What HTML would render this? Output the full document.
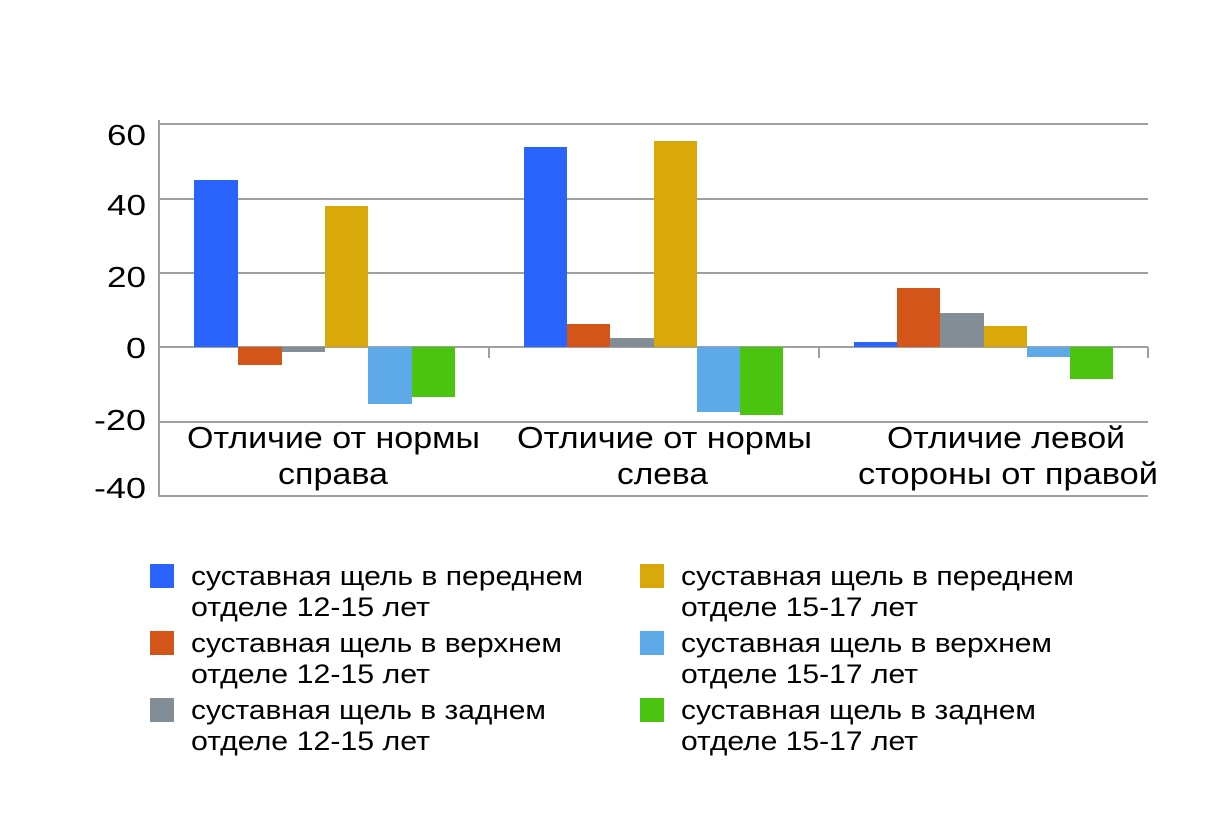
<!DOCTYPE html>
<html><head><meta charset="utf-8"><style>
html,body{margin:0;padding:0;background:#fff;}
svg{display:block;font-family:"Liberation Sans","DejaVu Sans",sans-serif;}
</style></head><body>
<svg width="1213" height="818" viewBox="0 0 1213 818">
<g stroke="#a0a0a0" stroke-width="2">
<line x1="159" y1="124" x2="1148" y2="124"/>
<line x1="159" y1="199" x2="1148" y2="199"/>
<line x1="159" y1="273" x2="1148" y2="273"/>
<line x1="159" y1="422" x2="1148" y2="422"/>
<line x1="159" y1="496" x2="1148" y2="496"/>
<line x1="159" y1="347" x2="1148" y2="347"/>
<line x1="159" y1="120" x2="159" y2="497"/>
<line x1="489" y1="347" x2="489" y2="358"/>
<line x1="819" y1="347" x2="819" y2="358"/>
<line x1="1148" y1="347" x2="1148" y2="358"/>
</g>
<g>
<rect x="194" y="180" width="44" height="167" fill="#2a64fc"/>
<rect x="238" y="347" width="44" height="18" fill="#d45519"/>
<rect x="282" y="347" width="43" height="5" fill="#838d96"/>
<rect x="325" y="206" width="43" height="141" fill="#d9a90b"/>
<rect x="368" y="347" width="44" height="57" fill="#5ea9e7"/>
<rect x="412" y="347" width="43" height="50" fill="#4bc410"/>

<rect x="524" y="147" width="43" height="200" fill="#2a64fc"/>
<rect x="567" y="324" width="43" height="23" fill="#d45519"/>
<rect x="610" y="338" width="44" height="9" fill="#838d96"/>
<rect x="654" y="141" width="43" height="206" fill="#d9a90b"/>
<rect x="697" y="347" width="43" height="65" fill="#5ea9e7"/>
<rect x="740" y="347" width="43" height="68" fill="#4bc410"/>

<rect x="854" y="342" width="43" height="5" fill="#2a64fc"/>
<rect x="897" y="288" width="43" height="59" fill="#d45519"/>
<rect x="940" y="313" width="44" height="34" fill="#838d96"/>
<rect x="984" y="326" width="43" height="21" fill="#d9a90b"/>
<rect x="1027" y="347" width="43" height="10" fill="#5ea9e7"/>
<rect x="1070" y="347" width="43" height="32" fill="#4bc410"/>
</g>
<g font-size="29" fill="#000" lengthAdjust="spacingAndGlyphs">
<text x="107" y="145" textLength="39" lengthAdjust="spacingAndGlyphs">60</text>
<text x="107" y="215" textLength="39" lengthAdjust="spacingAndGlyphs">40</text>
<text x="107" y="287" textLength="39" lengthAdjust="spacingAndGlyphs">20</text>
<text x="126" y="358" textLength="20" lengthAdjust="spacingAndGlyphs">0</text>
<text x="94" y="430" textLength="52" lengthAdjust="spacingAndGlyphs">-20</text>
<text x="94" y="498" textLength="52" lengthAdjust="spacingAndGlyphs">-40</text>
</g>
<g font-size="31" fill="#000">
<text x="187" y="448" textLength="293" lengthAdjust="spacingAndGlyphs">Отличие от нормы</text>
<text x="278" y="484" textLength="110" lengthAdjust="spacingAndGlyphs">справа</text>
<text x="517" y="448" textLength="295" lengthAdjust="spacingAndGlyphs">Отличие от нормы</text>
<text x="617" y="484" textLength="91" lengthAdjust="spacingAndGlyphs">слева</text>
<text x="887" y="448" textLength="238" lengthAdjust="spacingAndGlyphs">Отличие левой</text>
<text x="858" y="484" textLength="300" lengthAdjust="spacingAndGlyphs">стороны от правой</text>
</g>
<g font-size="27" fill="#000">
<rect x="150" y="564" width="24" height="24" fill="#2a64fc"/>
<text x="191" y="585" textLength="392" lengthAdjust="spacingAndGlyphs">суставная щель в переднем</text>
<text x="191" y="616" textLength="239" lengthAdjust="spacingAndGlyphs">отделе 12-15 лет</text>
<rect x="150" y="631" width="24" height="24" fill="#d45519"/>
<text x="191" y="652" textLength="371" lengthAdjust="spacingAndGlyphs">суставная щель в верхнем</text>
<text x="191" y="683" textLength="239" lengthAdjust="spacingAndGlyphs">отделе 12-15 лет</text>
<rect x="150" y="698" width="24" height="24" fill="#838d96"/>
<text x="191" y="719" textLength="355" lengthAdjust="spacingAndGlyphs">суставная щель в заднем</text>
<text x="191" y="750" textLength="239" lengthAdjust="spacingAndGlyphs">отделе 12-15 лет</text>
<rect x="640" y="564" width="24" height="24" fill="#d9a90b"/>
<text x="681" y="585" textLength="393" lengthAdjust="spacingAndGlyphs">суставная щель в переднем</text>
<text x="681" y="616" textLength="237" lengthAdjust="spacingAndGlyphs">отделе 15-17 лет</text>
<rect x="640" y="631" width="24" height="24" fill="#5ea9e7"/>
<text x="681" y="652" textLength="371" lengthAdjust="spacingAndGlyphs">суставная щель в верхнем</text>
<text x="681" y="683" textLength="237" lengthAdjust="spacingAndGlyphs">отделе 15-17 лет</text>
<rect x="640" y="698" width="24" height="24" fill="#4bc410"/>
<text x="681" y="719" textLength="355" lengthAdjust="spacingAndGlyphs">суставная щель в заднем</text>
<text x="681" y="750" textLength="237" lengthAdjust="spacingAndGlyphs">отделе 15-17 лет</text>
</g>
</svg>
</body></html>
